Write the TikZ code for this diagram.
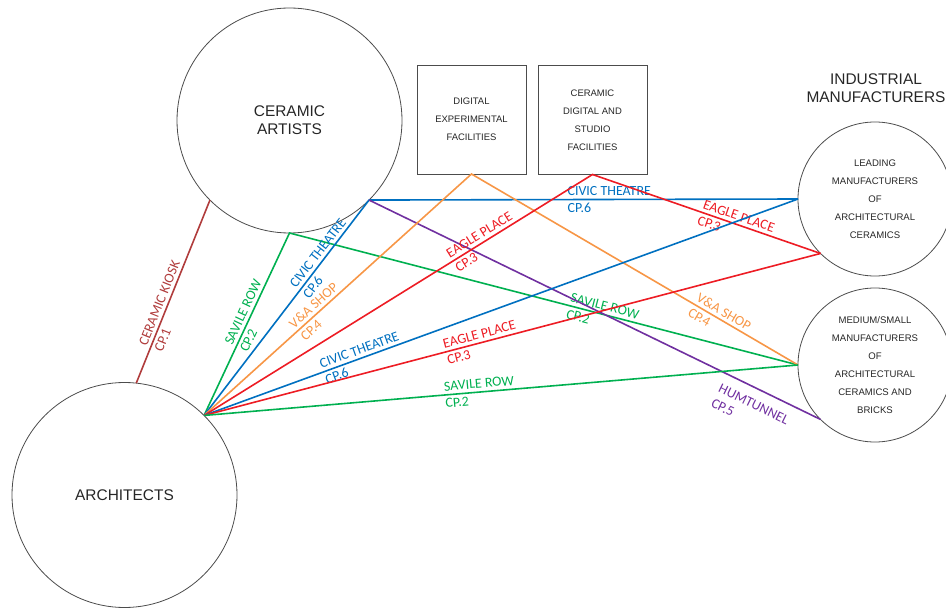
\documentclass[tikz,border=0pt]{standalone}
\usepackage{fontspec}
\setmainfont{Liberation Sans}
\newfontfamily\routefont{Carlito}

\definecolor{kioskbrown}{RGB}{176,60,60}
\definecolor{rowgreen}{RGB}{0,176,80}
\definecolor{civicblue}{RGB}{0,112,192}
\definecolor{shoporange}{RGB}{247,150,70}
\definecolor{eaglered}{RGB}{237,28,36}
\definecolor{tunnelpurple}{RGB}{112,48,160}

\begin{document}
\begin{tikzpicture}[x=1bp, y=-1bp,
  group/.style={circle, draw=black!70, line width=0.8bp, inner sep=0pt, outer sep=0pt, minimum size=225bp, align=center, text=black!85, font=\fontsize{15.5}{18}\selectfont},
  maker/.style={circle, draw=black!70, line width=0.8bp, inner sep=0pt, outer sep=0pt, minimum size=154bp, align=center, text=black!85, font=\fontsize{9.6}{18}\selectfont},
  facility/.style={rectangle, draw=black!70, line width=0.8bp, inner sep=0pt, outer sep=0pt, minimum size=109bp, align=center, text=black!85, font=\fontsize{9.5}{18}\selectfont},
  route/.style={line width=1.6bp},
  cp/.style={sloped, align=left, inner sep=2bp, font=\routefont\fontsize{14}{17}\selectfont}]
\useasboundingbox (0,0) rectangle (946,608);
\node[group] (artists) at (289.5,120.5) {CERAMIC\\ARTISTS};
\node[group] (architects) at (124.5,495) {ARCHITECTS};
\node[facility] (digital) at (471.5,119.5) {DIGITAL\\EXPERIMENTAL\\FACILITIES};
\node[facility] (studio) at (592.5,120) {CERAMIC\\DIGITAL AND\\STUDIO\\FACILITIES};
\node[maker] (leading) at (875,199) {LEADING\\MANUFACTURERS\\OF\\ARCHITECTURAL\\CERAMICS};
\node[maker] (medium) at (875,365) {MEDIUM/SMALL\\MANUFACTURERS\\OF\\ARCHITECTURAL\\CERAMICS AND\\BRICKS};
\node[align=center, text=black!85, font=\fontsize{15.5}{18}\selectfont] (industrial) at (876,88.5) {INDUSTRIAL\\MANUFACTURERS};
\coordinate (hub) at (architects.45);
\draw[route, kioskbrown] (architects.84) -- node[cp, pos=0.42] {CERAMIC KIOSK\\CP.1} (artists.225);
\draw[route, rowgreen] (hub) -- node[cp, pos=0.546] {SAVILE ROW\\CP.2} (artists.south) -- node[cp, pos=0.616] {SAVILE ROW\\CP.2} (medium.west);
\draw[route, civicblue] (hub) -- node[cp, pos=0.73] {CIVIC THEATRE\\CP.6} (artists.-45) -- node[cp, pos=0.56] {CIVIC THEATRE\\CP.6} (leading.west);
\draw[route, tunnelpurple] (artists.-45) -- node[cp, pos=0.867, below=8bp] {HUMTUNNEL\\CP.5} (medium.225);
\draw[route, shoporange] (hub) -- node[cp, pos=0.43] {V\&A SHOP\\CP.4} (digital.south) -- node[cp, pos=0.76] {V\&A SHOP\\CP.4} (medium.west);
\draw[route, eaglered] (hub) -- node[cp, pos=0.72] {EAGLE PLACE\\CP.3} (studio.south) -- node[cp, pos=0.63] {EAGLE PLACE\\CP.3} (leading.225);
\draw[route, civicblue] (hub) -- node[cp, pos=0.266] {CIVIC THEATRE\\CP.6} (leading.west);
\draw[route, eaglered] (hub) -- node[cp, pos=0.45] {EAGLE PLACE\\CP.3} (leading.225);
\draw[route, rowgreen] (hub) -- node[cp, pos=0.464] {SAVILE ROW\\CP.2} (medium.west);
\end{tikzpicture}
\end{document}
